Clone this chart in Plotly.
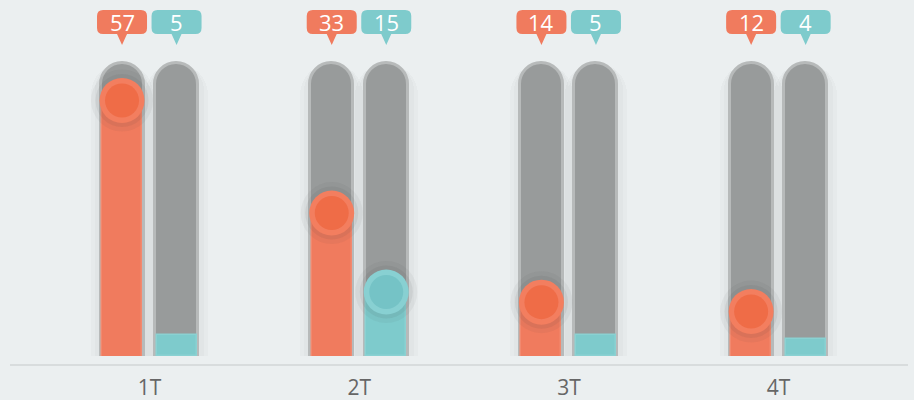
import plotly.graph_objects as go

# ---------------- data ----------------
categories = ["1T", "2T", "3T", "4T"]
series_orange = [57, 33, 14, 12]
series_teal = [5, 15, 5, 4]
track_max = 65          # height of the grey background tracks (orange scale)
teal_circle_min = 10    # teal values below this show no knob

# ---------------- style ----------------
BG = "#ebeff0"
ORANGE_BAR = "#f07b5e"
ORANGE_EDGE = "#f2896f"
ORANGE_RING = "#f37e5f"
ORANGE_CORE = "#ef6c47"
TEAL_BAR = "#7ecbcc"
TEAL_EDGE = "#8ad1d2"
TEAL_RING = "#88d0d2"
TEAL_CORE = "#75c3c6"
TRACK = "#989b9b"
TRACK_RIM = "#b7baba"
FONT = "Open Sans"

n = len(categories)
idx = list(range(n))
x_or = [i - 0.131 for i in idx]
x_te = [i + 0.129 for i in idx]
W_TRACK = 0.205
W_BAR = 0.191

fig = go.Figure()

# soft shadow around tracks
for xs in (x_or, x_te):
    fig.add_trace(go.Bar(x=xs, y=[track_max] * n, width=0.30,
                         marker=dict(color="rgba(0,0,0,0.02)", cornerradius="50%", line=dict(width=0)),
                         hoverinfo="skip", showlegend=False, yaxis="y"))
    fig.add_trace(go.Bar(x=xs, y=[track_max] * n, width=0.26,
                         marker=dict(color="rgba(0,0,0,0.02)", cornerradius="50%", line=dict(width=0)),
                         hoverinfo="skip", showlegend=False, yaxis="y"))

# grey tracks
for xs in (x_or, x_te):
    fig.add_trace(go.Bar(x=xs, y=[track_max] * n, width=W_TRACK,
                         marker=dict(color=TRACK, cornerradius="50%",
                                     line=dict(color=TRACK_RIM, width=3)),
                         hoverinfo="skip", showlegend=False, yaxis="y"))

# orange bars
fig.add_trace(go.Bar(x=x_or, y=series_orange, width=W_BAR,
                     marker=dict(color=ORANGE_BAR, line=dict(color=ORANGE_EDGE, width=1.5)),
                     showlegend=False, yaxis="y", name="A"))
# orange knobs
fig.add_trace(go.Scatter(x=x_or, y=series_orange, mode="markers",
                         marker=dict(size=62, color="rgba(60,60,60,0.05)", line=dict(width=0)),
                         hoverinfo="skip", showlegend=False, yaxis="y"))
fig.add_trace(go.Scatter(x=x_or, y=series_orange, mode="markers",
                         marker=dict(size=53, color="rgba(60,60,60,0.07)", line=dict(width=0)),
                         hoverinfo="skip", showlegend=False, yaxis="y"))
fig.add_trace(go.Scatter(x=x_or, y=series_orange, mode="markers",
                         marker=dict(size=45, color=ORANGE_RING, line=dict(width=0)),
                         hoverinfo="skip", showlegend=False, yaxis="y"))
fig.add_trace(go.Scatter(x=x_or, y=series_orange, mode="markers",
                         marker=dict(size=34, color=ORANGE_CORE, line=dict(width=0)),
                         hoverinfo="skip", showlegend=False, yaxis="y"))

# teal bars
fig.add_trace(go.Bar(x=x_te, y=series_teal, width=W_BAR,
                     marker=dict(color=TEAL_BAR, line=dict(color=TEAL_EDGE, width=1.5)),
                     showlegend=False, yaxis="y2", name="B"))
kx = [x for x, v in zip(x_te, series_teal) if v >= teal_circle_min]
ky = [v for v in series_teal if v >= teal_circle_min]
fig.add_trace(go.Scatter(x=kx, y=ky, mode="markers",
                         marker=dict(size=62, color="rgba(60,60,60,0.05)", line=dict(width=0)),
                         hoverinfo="skip", showlegend=False, yaxis="y2"))
fig.add_trace(go.Scatter(x=kx, y=ky, mode="markers",
                         marker=dict(size=53, color="rgba(60,60,60,0.07)", line=dict(width=0)),
                         hoverinfo="skip", showlegend=False, yaxis="y2"))
fig.add_trace(go.Scatter(x=kx, y=ky, mode="markers",
                         marker=dict(size=45, color=TEAL_RING, line=dict(width=0)),
                         hoverinfo="skip", showlegend=False, yaxis="y2"))
fig.add_trace(go.Scatter(x=kx, y=ky, mode="markers",
                         marker=dict(size=34, color=TEAL_CORE, line=dict(width=0)),
                         hoverinfo="skip", showlegend=False, yaxis="y2"))


# value bubbles (rounded box + pointer), drawn in pixels around each bar
def bubble_path(w=50, top=10, bot=-14, r=6, pw=10, tip=-25):
    l, rt = -w / 2, w / 2
    return (f"M {l + r},{top} L {rt - r},{top} Q {rt},{top} {rt},{top - r} "
            f"L {rt},{bot + r} Q {rt},{bot} {rt - r},{bot} "
            f"L {pw / 2},{bot} L 0,{tip} L {-pw / 2},{bot} "
            f"L {l + r},{bot} Q {l},{bot} {l},{bot + r} "
            f"L {l},{top - r} Q {l},{top} {l + r},{top} Z")


shapes = []
annotations = []
for xs, vals, col in ((x_or, series_orange, ORANGE_BAR), (x_te, series_teal, TEAL_BAR)):
    for x, v in zip(xs, vals):
        shapes.append(dict(type="path", xref="x", yref="paper", xsizemode="pixel", ysizemode="pixel",
                           xanchor=x, yanchor=1, path=bubble_path(), fillcolor=col,
                           line=dict(width=0), layer="above"))
        annotations.append(dict(x=x, y=1, xref="x", yref="paper", yanchor="middle", xanchor="center",
                                yshift=-2, showarrow=False, text=str(v),
                                font=dict(family=FONT, size=22, color="white")))

# baseline
shapes.append(dict(type="line", xref="paper", yref="paper", x0=0, x1=1, y0=-0.0268, y1=-0.0268,
                   line=dict(color="#c6c9ca", width=1.2), layer="below"))

fig.update_layout(
    width=914, height=400,
    margin=dict(l=10, r=6, t=20, b=44, pad=0, autoexpand=False),
    paper_bgcolor=BG, plot_bgcolor=BG,
    barmode="overlay", bargap=0,
    showlegend=False,
    shapes=shapes, annotations=annotations,
    xaxis=dict(range=[-0.6652, 3.6170], tickmode="array", tickvals=idx, ticktext=categories,
               showgrid=False, zeroline=False, showline=False, ticks="",
               ticklabelstandoff=17, automargin=False,
               tickfont=dict(family=FONT, size=21, color="#666666"), fixedrange=True),
    yaxis=dict(range=[2.517, 74.17], showgrid=False, zeroline=False, showticklabels=False,
               ticks="", fixedrange=True, automargin=False),
    yaxis2=dict(range=[-0.06, 79.0], overlaying="y", showgrid=False, zeroline=False,
                showticklabels=False, ticks="", fixedrange=True, visible=False, automargin=False),
)

fig.write_html("out.html", config={"displayModeBar": False},
               post_script="document.body.style.margin='0';document.body.style.background='#ebeff0';")
